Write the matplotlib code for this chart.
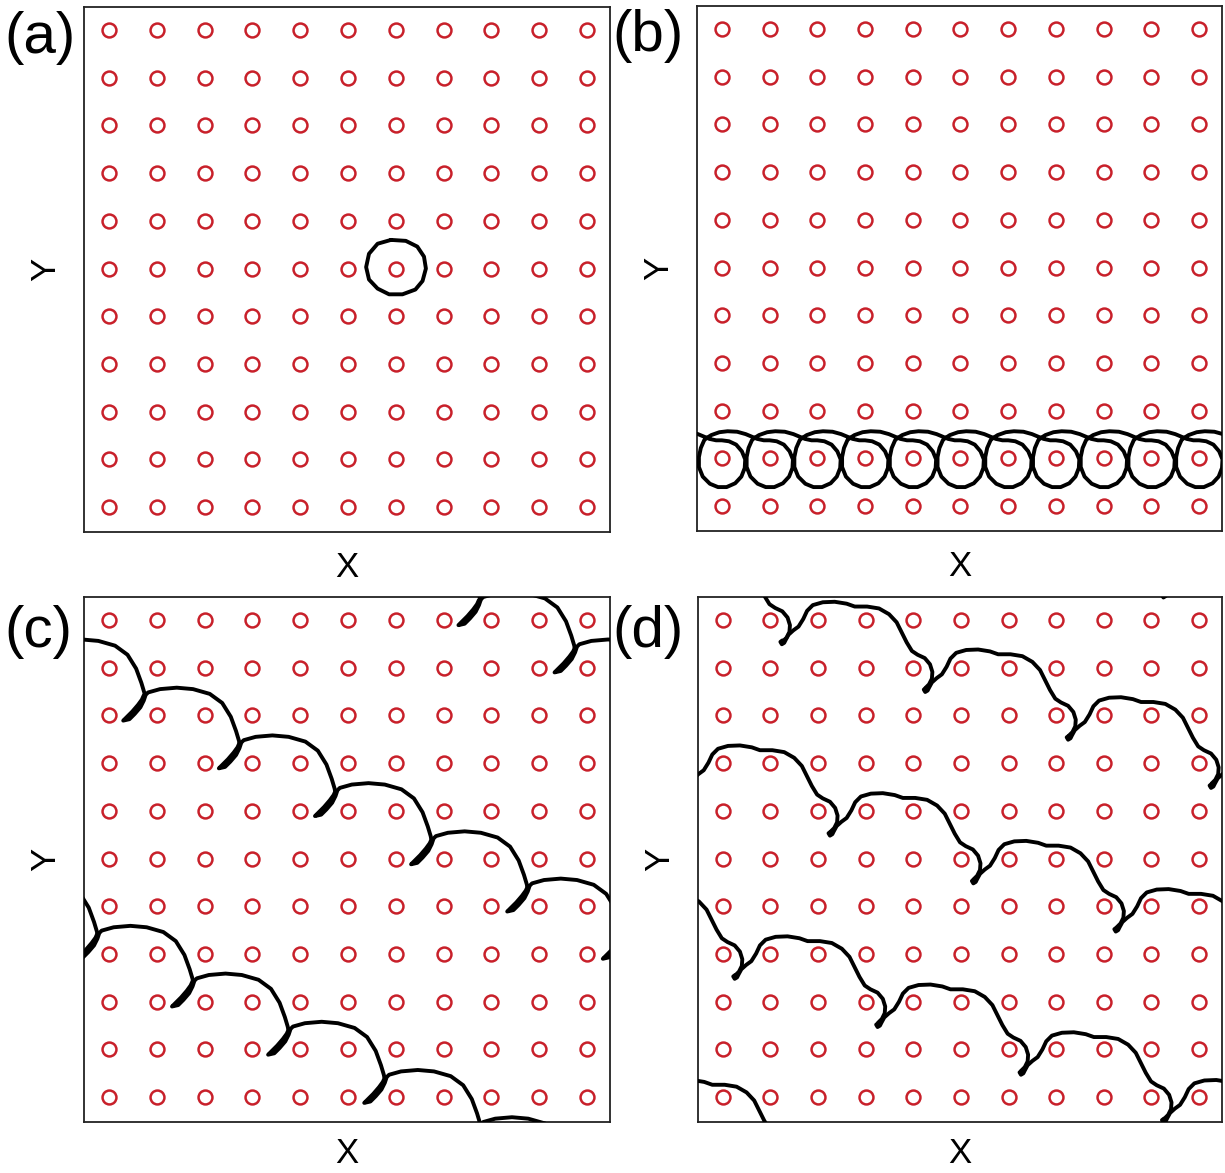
import numpy as np
import matplotlib
matplotlib.use("Agg")
import matplotlib.pyplot as plt

plt.rcParams['font.family'] = ['Liberation Sans', 'DejaVu Sans']

# ---------------- data ----------------
lattice_x = [0, 1, 2, 3, 4, 5, 6, 7, 8, 9, 10]
lattice_y = [0, 1, 2, 3, 4, 5, 6, 7, 8, 9, 10]
lattice_period = 11

panel_labels = ['(a)', '(b)', '(c)', '(d)']
x_label = 'X'
y_label = 'Y'

# (a) closed orbit around a single site
a_center_x = 6
a_center_y = 5
a_loop_dx = [-0.10, 0.21, 0.45, 0.59, 0.63, 0.56, 0.41, 0.14, -0.14, -0.38, -0.56, -0.62, -0.56, -0.38, -0.10]
a_loop_dy = [0.60, 0.58, 0.46, 0.25, 0.00, -0.26, -0.44, -0.54, -0.54, -0.42, -0.23, 0.03, 0.31, 0.52, 0.60]

# (b) looping drift along one row: one period read relative to a site
b_sites_x = [-1, 0, 1, 2, 3, 4, 5, 6, 7, 8, 9, 10]
b_site_y = 1
b_period_dx = [-0.33, -0.22, -0.05, 0.12, 0.32, 0.50, 0.62, 0.74, 0.88, 1.00, 1.15, 1.30, 1.42, 1.49,
               1.48, 1.41, 1.28, 1.10, 0.92, 0.75, 0.60, 0.52, 0.52, 0.56, 0.63, 0.67]
b_period_dy = [0.42, 0.49, 0.55, 0.57, 0.56, 0.51, 0.46, 0.41, 0.38, 0.38, 0.36, 0.29, 0.15, -0.02,
               -0.20, -0.38, -0.52, -0.60, -0.60, -0.53, -0.38, -0.18, 0.03, 0.22, 0.38, 0.42]

# (c) hopping orbit: hop start points and one hop shape
c_start_x = [0.73, 2.73, 4.74, 6.75, 8.76, 10.76, 1.75, 3.76, 5.77, 7.74, 9.75]
c_start_y = [8.42, 7.42, 6.42, 5.41, 4.42, 3.43, 2.43, 1.42, 0.41, 10.42, 9.43]
c_hop_dx = [0.00, -0.04, -0.12, -0.24, -0.36, -0.43, -0.30, -0.19, -0.07, 0.00, 0.04, 0.09,
            0.34, 0.69, 1.03, 1.38, 1.64, 1.82, 1.93, 1.99, 2.00]
c_hop_dy = [0.00, -0.09, -0.20, -0.34, -0.46, -0.53, -0.50, -0.39, -0.25, -0.11, 0.01, 0.06,
            0.13, 0.16, 0.13, 0.03, -0.16, -0.45, -0.75, -0.95, -1.00]

# (d) hopping orbit: hop start points and one hop shape
d_start_x = [1.25, 4.26, 7.26, 10.26, 2.26, 5.27, 8.26, 0.26, 3.26, 6.27, 9.26]
d_start_y = [9.57, 8.57, 7.57, 6.56, 5.56, 4.56, 3.55, 2.56, 1.55, 0.55, -0.45]
d_hop_dx = [0.00, -0.04, -0.01, 0.04, 0.07, 0.13, 0.23, 0.34, 0.44, 0.52, 0.64, 0.85, 1.10, 1.35,
            1.52, 1.78, 2.03, 2.24, 2.40, 2.50, 2.61, 2.72, 2.84, 2.99, 3.10, 3.15, 3.14, 3.08, 3.00]
d_hop_dy = [0.00, -0.03, -0.08, -0.05, 0.01, 0.12, 0.21, 0.29, 0.45, 0.62, 0.74, 0.80, 0.81, 0.77,
            0.71, 0.71, 0.67, 0.55, 0.38, 0.18, -0.04, -0.22, -0.30, -0.37, -0.50, -0.66, -0.80, -0.92, -1.00]

# ---------------- style ----------------
RED = '#c8202a'
LINE_KW = dict(color='black', lw=2.8, solid_capstyle='round', solid_joinstyle='round', zorder=3)

fig = plt.figure(figsize=(12.25, 11.73), dpi=100)
W, H = 1225.0, 1173.0
rects = [
    [84 / W, 1 - 532 / H, 526 / W, 525 / H],
    [697 / W, 1 - 531 / H, 525 / W, 525 / H],
    [84 / W, 1 - 1122 / H, 526 / W, 525 / H],
    [698 / W, 1 - 1122 / H, 524 / W, 525 / H],
]
axes = [fig.add_axes(r) for r in rects]
x_labelpads = [14, 14, 11, 11]

gx, gy = np.meshgrid(lattice_x, lattice_y)
for ax, xpad in zip(axes, x_labelpads):
    ax.plot(gx.ravel(), gy.ravel(), 'o', mfc='none', mec=RED, ms=10, mew=1.8, zorder=2)
    ax.set_xlim(-0.52, 10.48)
    ax.set_ylim(-0.52, 10.48)
    ax.set_xticks([])
    ax.set_yticks([])
    for s in ax.spines.values():
        s.set_linewidth(1.3)
        s.set_color('#222222')
    ax.set_xlabel(x_label, fontsize=25, labelpad=xpad)
    ax.set_ylabel(y_label, fontsize=25, labelpad=16)

# (a)
ax = axes[0]
ax.plot(a_center_x + np.array(a_loop_dx), a_center_y + np.array(a_loop_dy), **LINE_KW)

# (b)
ax = axes[1]
bx, by = [], []
for i, sx in enumerate(b_sites_x):
    px = sx + np.array(b_period_dx)
    py = b_site_y + np.array(b_period_dy)
    if i > 0:
        px, py = px[1:], py[1:]
    bx.extend(px)
    by.extend(py)
ax.plot(bx, by, **LINE_KW)

# (c), (d): periodic lattice, draw shifted copies and let the axes clip
def draw_hops(ax, sx_list, sy_list, hdx, hdy):
    hdx = np.array(hdx)
    hdy = np.array(hdy)
    for sx, sy in zip(sx_list, sy_list):
        for ox in (-lattice_period, 0, lattice_period):
            for oy in (-lattice_period, 0, lattice_period):
                ax.plot(sx + ox + hdx, sy + oy + hdy, **LINE_KW)

draw_hops(axes[2], c_start_x, c_start_y, c_hop_dx, c_hop_dy)
draw_hops(axes[3], d_start_x, d_start_y, d_hop_dx, d_hop_dy)

# panel labels
label_pos = [(4, 38), (612, 36), (4, 632), (612, 632)]
for lab, (px, py) in zip(panel_labels, label_pos):
    fig.text(px / W, 1 - py / H, lab, fontsize=42, ha='left', va='center')

fig.savefig('out.png', dpi=100)
